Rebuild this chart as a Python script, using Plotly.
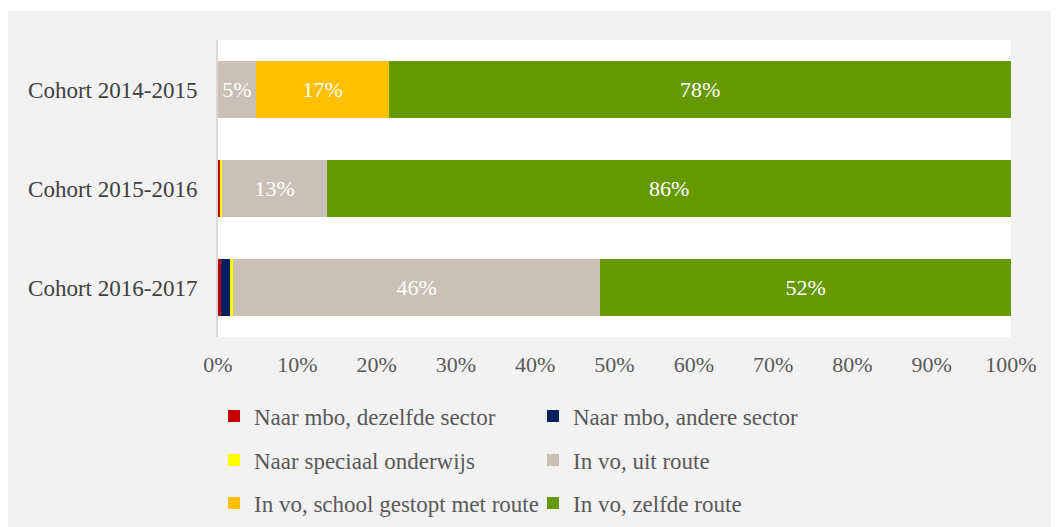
import plotly.graph_objects as go

# cohorts, top to bottom
cohorts = ["Cohort 2014-2015", "Cohort 2015-2016", "Cohort 2016-2017"]

# share per outcome (%), same order as cohorts
mbo_same = [0.0, 0.2, 0.4]
mbo_other = [0.0, 0.0, 1.1]
special = [0.0, 0.3, 0.4]
vo_out = [4.8, 13.3, 46.3]
vo_stopped = [16.8, 0.0, 0.0]
vo_same = [78.4, 86.2, 51.8]

series = [
    ("Naar mbo, dezelfde sector", mbo_same, "#c00000", "legend"),
    ("Naar mbo, andere sector", mbo_other, "#002060", "legend"),
    ("Naar speciaal onderwijs", special, "#ffff00", "legend2"),
    ("In vo, uit route", vo_out, "#c9c1b6", "legend2"),
    ("In vo, school gestopt met route", vo_stopped, "#ffc000", "legend3"),
    ("In vo, zelfde route", vo_same, "#669900", "legend3"),
]

FONT = "Liberation Serif"

fig = go.Figure()
for name, vals, color, leg in series:
    labels = [f"{round(v)}%" if v >= 4.5 else "" for v in vals]
    fig.add_trace(go.Bar(
        y=cohorts, x=[v / 100 for v in vals], name=name, orientation="h",
        marker=dict(color=color, line=dict(width=0)),
        text=labels, textposition="inside", insidetextanchor="middle",
        textangle=0, constraintext="none",
        textfont=dict(family=FONT, size=22, color="white"),
        legend=leg, hoverinfo="skip",
    ))

# one legend per row (two entries each), placed in container coordinates
legend_style = dict(orientation="h", xref="container", x=0.196, xanchor="left",
                    yref="container", yanchor="middle", traceorder="normal",
                    entrywidth=274, entrywidthmode="pixels", bgcolor="rgba(0,0,0,0)",
                    font=dict(family=FONT, size=23, color="#595959"),
                    itemclick=False, itemdoubleclick=False)

fig.update_layout(
    width=1051, height=519,
    barmode="stack", bargap=0.43,
    paper_bgcolor="#f2f2f2", plot_bgcolor="white",
    margin=dict(l=210, r=48, t=32, b=190),
    font=dict(family=FONT, size=22, color="#595959"),
    legend=dict(legend_style, y=0.2139),
    legend2=dict(legend_style, y=0.1291),
    legend3=dict(legend_style, y=0.0462),
    xaxis=dict(range=[0, 1], dtick=0.1, tickformat=".0%", showgrid=False,
               zeroline=False, showline=False, ticks="", ticklabelstandoff=12,
               tickfont=dict(family=FONT, size=22, color="#595959")),
    yaxis=dict(autorange="reversed", showline=True, linecolor="#d9d9d9", linewidth=2,
               ticks="", ticklabelstandoff=14,
               tickfont=dict(family=FONT, size=23, color="#404040")),
    shapes=[
        dict(type="rect", xref="paper", yref="paper", x0=-1, x1=2, y0=1.0976, y1=1.3,
             fillcolor="white", line=dict(width=0), layer="below"),
    ],
)

fig.write_html("out.html")
